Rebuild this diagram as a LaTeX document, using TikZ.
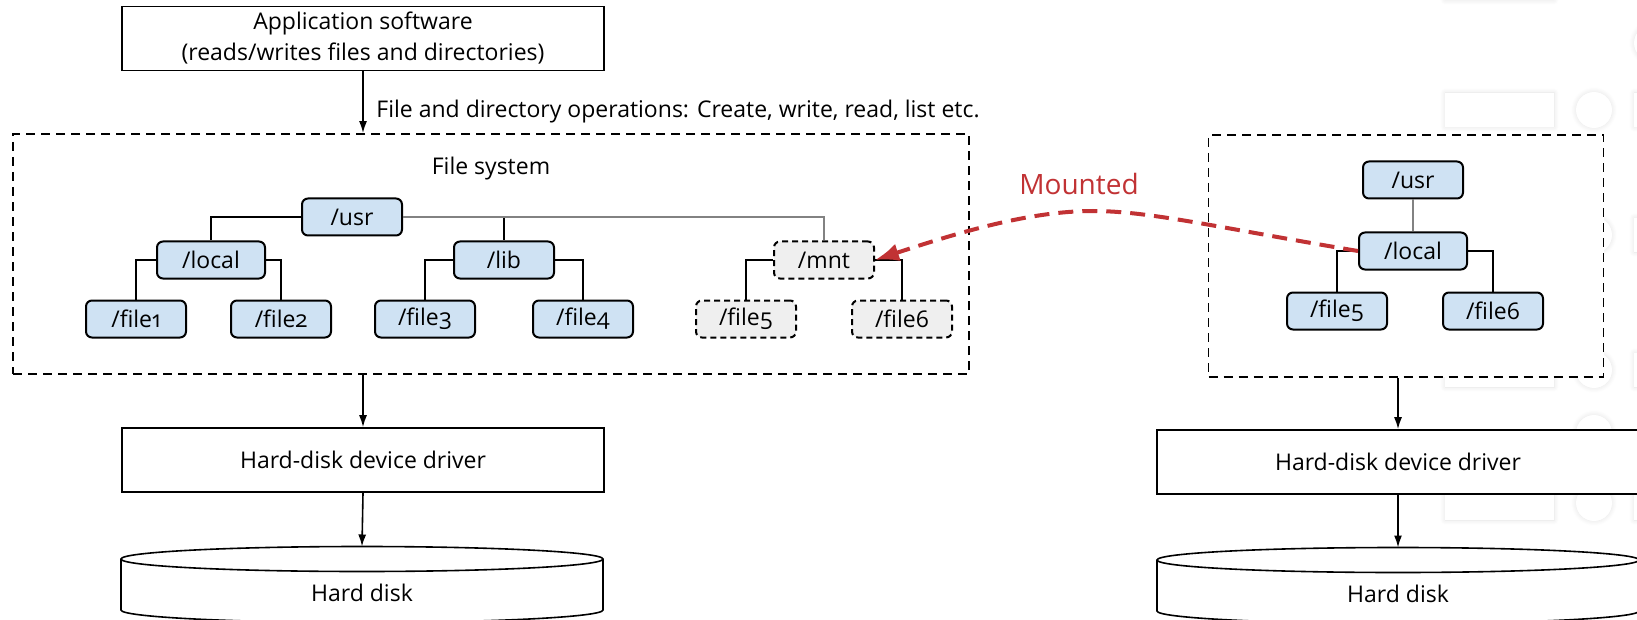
\documentclass[tikz,border=0pt]{standalone}
\usepackage{fontspec}
\setmainfont{Open Sans}[Numbers=OldStyle]
\usetikzlibrary{arrows.meta,shadows.blur}

\definecolor{dirblue}{RGB}{207,226,243}
\definecolor{mntgray}{RGB}{239,239,239}
\definecolor{linkgray}{RGB}{130,130,130}
\definecolor{mountred}{RGB}{193,50,52}

\begin{document}
\begin{tikzpicture}[x=0.5pt,y=-0.5pt,
  font=\fontsize{11.5}{15.5}\selectfont,
  plainbox/.style={draw=black, line width=0.8pt, fill=white, minimum width=241pt,
    minimum height=32pt, inner sep=0pt, align=center},
  areabox/.style={draw=black, line width=0.9pt, dash pattern=on 4.5pt off 3pt,
    fill=white, inner sep=0pt},
  dirnode/.style={draw=black, line width=1pt, rounded corners=3pt, fill=dirblue,
    minimum width=50pt, minimum height=18.5pt, inner sep=0pt},
  widenode/.style={dirnode, minimum width=54pt},
  mntnode/.style={dirnode, fill=mntgray, dash pattern=on 3pt off 2pt},
  treeline/.style={draw=black, line width=0.9pt},
  softline/.style={draw=linkgray, line width=0.9pt},
  flow/.style={draw=black, line width=0.8pt, -{Latex[length=6pt,width=4pt]}},
  mountlink/.style={draw=mountred, line width=2pt, dash pattern=on 7.5pt off 4.5pt,
    -{Latex[length=12pt,width=9pt]}},
  diskbody/.style={draw=black, line width=0.8pt, fill=white},
  ghost/.style={fill=white, draw=none, blur shadow={shadow xshift=0pt,
    shadow yshift=0pt, shadow blur radius=2.5pt, shadow opacity=12,
    shadow blur steps=6}}
]
\useasboundingbox (0,0) rectangle (1637,620);
\clip (0,0) rectangle (1637,620);

% faint placeholder panel along the right edge
\fill[ghost] (1445,-40) rectangle (1554,0);
\fill[ghost] (1652,43) circle[radius=9pt];
\foreach \yc in {110,370,503}{
  \fill[ghost] (1445,\yc-17) rectangle (1554,\yc+17);
}
\foreach \yc in {110,235,370,433,503}{
  \fill[ghost] (1594,\yc) circle[radius=9pt];
}
\foreach \yc in {110,235,370,503}{
  \fill[ghost] (1634,\yc-17) rectangle (1700,\yc+17);
}

% ---------- left stack ----------
\node[plainbox] (app) at (363,38.5)
  {Application software\\(reads/writes files and directories)};

\node[areabox, minimum width=478pt, minimum height=120pt] (fs) at (491,254) {};
\node (fslabel) at (491,169) {File system};

\draw[flow] (app.south) -- (app.south |- fs.north);
\node[anchor=west, inner sep=0pt] (oplabel) at (376,112)
  {File and directory operations: Create, write, read, list etc.};

\node[dirnode]  (usr)   at (352,217) {/usr};
\node[widenode] (local) at (211,260) {/local};
\node[dirnode]  (lib)   at (504,260) {/lib};
\node[mntnode]  (mnt)   at (824,260) {/mnt};
\node[dirnode]  (file1) at (136,319) {/file1};
\node[dirnode]  (file2) at (281,319) {/file2};
\node[dirnode]  (file3) at (425,319) {/file3};
\node[dirnode]  (file4) at (583,319) {/file4};
\node[mntnode]  (file5) at (746,319) {/file5};
\node[mntnode]  (file6) at (902,319) {/file6};

\draw[treeline] (usr.west) -| (local.north);
\draw[treeline] (usr.east) -| (lib.north);
\draw[softline] (usr.east) -| (mnt.north);
\draw[treeline] (local.west) -| (file1.north);
\draw[treeline] (local.east) -| (file2.north);
\draw[treeline] (lib.west) -| (file3.north);
\draw[treeline] (lib.east) -| (file4.north);
\draw[treeline] (mnt.west) -| (file5.north);
\draw[treeline] (mnt.east) -| (file6.north);

\node[plainbox, minimum height=32pt] (ldrv) at (363,460) {Hard-disk device driver};
\draw[flow] (fs.south -| ldrv.north) -- (ldrv.north);

\draw[diskbody] (121,559) -- (121,610)
  arc[start angle=180, end angle=360, x radius=120.5pt, y radius=6.25pt]
  -- (603,559)
  arc[start angle=0, end angle=180, x radius=120.5pt, y radius=6.25pt] -- cycle;
\draw[diskbody, fill=none] (603,559)
  arc[start angle=360, end angle=180, x radius=120.5pt, y radius=6.25pt];
\coordinate (ldisktop) at (362,546.5);
\node (ldisk) at (362,593) {Hard disk};
\draw[flow] (ldrv.south) -- (ldisktop);

% ---------- right stack ----------
\node[areabox, minimum width=197.5pt, minimum height=121pt] (rfs) at (1406,256) {};
\node[dirnode]  (rusr)   at (1413,180) {/usr};
\node[widenode] (rlocal) at (1413,251) {/local};
\node[dirnode]  (rfile5) at (1337,311) {/file5};
\node[dirnode]  (rfile6) at (1493,311) {/file6};
\draw[softline] (rusr.south) -- (rlocal.north);
\draw[treeline] (rlocal.west) -| (rfile5.north);
\draw[treeline] (rlocal.east) -| (rfile6.north);

\node[plainbox, minimum height=32pt] (rdrv) at (1398,462) {Hard-disk device driver};
\draw[flow] (rfs.south -| rdrv.north) -- (rdrv.north);

\draw[diskbody] (1157,560) -- (1157,611)
  arc[start angle=180, end angle=360, x radius=120.5pt, y radius=6.25pt]
  -- (1639,560)
  arc[start angle=0, end angle=180, x radius=120.5pt, y radius=6.25pt] -- cycle;
\draw[diskbody, fill=none] (1639,560)
  arc[start angle=360, end angle=180, x radius=120.5pt, y radius=6.25pt];
\coordinate (rdisktop) at (1398,547.5);
\node (rdisk) at (1398,594) {Hard disk};
\draw[flow] (rdrv.south) -- (rdisktop);

% ---------- mount link ----------
\coordinate (crest) at (1093,211);
\draw[mountlink] (rlocal.west) .. controls (1220,228) and (1150,211) .. (crest)
  .. controls (1030,211) and (960,232) .. (mnt.east);
\node[text=mountred, font=\fontsize{14}{16}\selectfont] (mlabel) at (1079,184) {Mounted};
\end{tikzpicture}
\end{document}
